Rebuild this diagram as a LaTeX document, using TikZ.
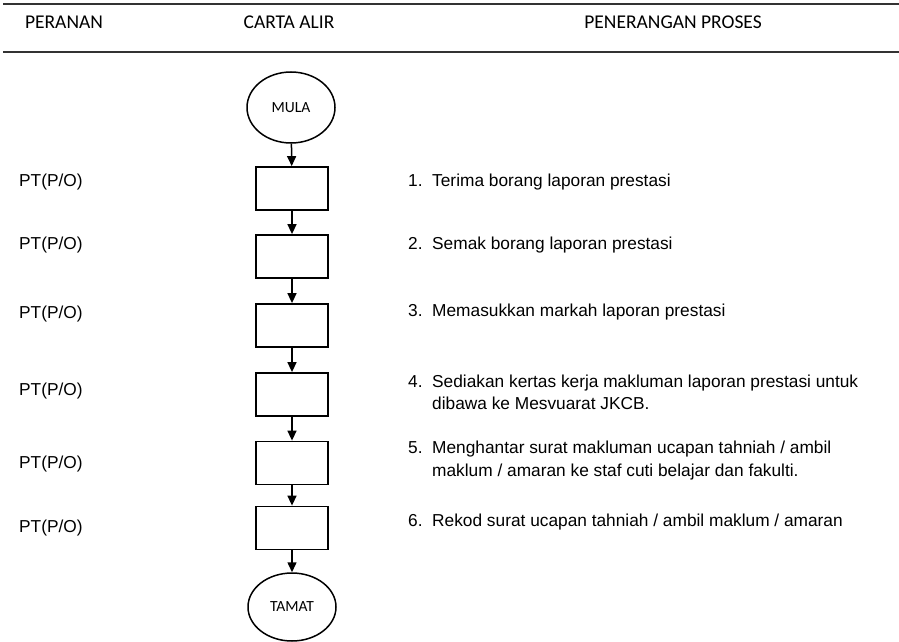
\documentclass[tikz,border=0pt]{standalone}
\usepackage{fontspec}
\setmainfont{Liberation Sans}
\newfontfamily\headfont{Carlito}
\usetikzlibrary{arrows.meta,shapes.geometric}
\begin{document}
\begin{tikzpicture}[x=1pt,y=-1pt,
  rule/.style={line width=2pt, black!80},
  headtxt/.style={font=\headfont\fontsize{19.5}{23}\selectfont, anchor=base, inner sep=0pt},
  terminal/.style={draw, ellipse, line width=1.5pt, minimum width=88pt, minimum height=71pt,
    inner sep=0pt, font=\headfont\fontsize{15.5}{18}\selectfont},
  stepbox/.style={draw, rectangle, line width=1.8pt, minimum width=72pt, minimum height=43pt, inner sep=0pt},
  flow/.style={-{Triangle[length=10pt,width=9pt]}, line width=1.5pt},
  body/.style={font=\fontsize{17.3}{21}\selectfont, anchor=base west, inner sep=0pt}
]
\useasboundingbox (0,0) rectangle (899,642);

% header rules and column titles
\coordinate (tl) at (3,4);   \coordinate (tr) at (899,4);
\coordinate (bl) at (3,52);  \coordinate (br) at (899,52);
\draw[rule] (tl) -- (tr);
\draw[rule] (bl) -- (br);
\node[headtxt] (h1) at (64,29) {PERANAN};
\node[headtxt] (h2) at (289,29) {CARTA ALIR};
\node[headtxt] (h3) at (673,29) {PENERANGAN PROSES};

% flow chart
\node[terminal] (mula) at (291,107.5) {MULA};
\node[stepbox] (s1) at (292,188.5) {};
\node[stepbox] (s2) at (292,256.5) {};
\node[stepbox] (s3) at (292,325.5) {};
\node[stepbox] (s4) at (292,394.5) {};
\node[stepbox] (s5) at (292,463) {};
\node[stepbox] (s6) at (292,528) {};
\node[terminal, minimum height=68pt] (tamat) at (292,607) {TAMAT};

\draw[flow] (mula) -- (s1);
\draw[flow] (s1) -- (s2);
\draw[flow] (s2) -- (s3);
\draw[flow] (s3) -- (s4);
\draw[flow] (s4) -- (s5);
\draw[flow] (s5) -- (s6);
\draw[flow] (s6) -- (tamat);

% roles
\node[body] (r1) at (19,186) {PT(P/O)};
\node[body] (r2) at (19,249) {PT(P/O)};
\node[body] (r3) at (19,318) {PT(P/O)};
\node[body] (r4) at (19,395) {PT(P/O)};
\node[body] (r5) at (19,468) {PT(P/O)};
\node[body] (r6) at (19,532) {PT(P/O)};

% process descriptions
\node[body] (n1) at (408,186) {1.};
\node[body] (d1) at (432,186) {Terima borang laporan prestasi};
\node[body] (n2) at (408,249) {2.};
\node[body] (d2) at (432,249) {Semak borang laporan prestasi};
\node[body] (n3) at (408,316) {3.};
\node[body] (d3) at (432,316) {Memasukkan markah laporan prestasi};
\node[body] (n4) at (408,387) {4.};
\node[body] (d4a) at (432,387) {Sediakan kertas kerja makluman laporan prestasi untuk};
\node[body] (d4b) at (432,409) {dibawa ke Mesvuarat JKCB.};
\node[body] (n5) at (408,453) {5.};
\node[body] (d5a) at (432,453) {Menghantar surat makluman ucapan tahniah / ambil};
\node[body] (d5b) at (432,476) {maklum / amaran ke staf cuti belajar dan fakulti.};
\node[body] (n6) at (408,526) {6.};
\node[body] (d6) at (432,526) {Rekod surat ucapan tahniah / ambil maklum / amaran};
\end{tikzpicture}
\end{document}
